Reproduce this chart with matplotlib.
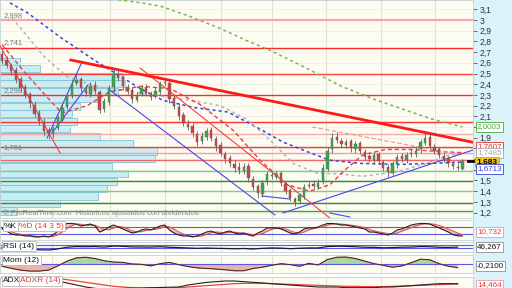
import numpy as np
import matplotlib
matplotlib.use("Agg")
import matplotlib.pyplot as plt
from matplotlib.patches import Rectangle

plt.rcParams['font.family'] = ['Liberation Sans', 'DejaVu Sans']

### Price bars (one candle per bar)
opens = [2.68, 2.63, 2.57, 2.53, 2.45, 2.37, 2.31, 2.21, 2.13, 2.05,
         1.97, 1.93, 1.99, 2.07, 2.19, 2.29, 2.41, 2.45, 2.35, 2.31,
         2.39, 2.33, 2.17, 2.23, 2.37, 2.49, 2.47, 2.37, 2.35, 2.25,
         2.31, 2.37, 2.31, 2.29, 2.33, 2.41, 2.41, 2.27, 2.19, 2.11,
         2.03, 2.01, 1.93, 1.87, 1.91, 1.97, 1.89, 1.83, 1.75, 1.71,
         1.65, 1.63, 1.59, 1.64, 1.51, 1.45, 1.37, 1.49, 1.55, 1.53,
         1.57, 1.47, 1.41, 1.33, 1.31, 1.35, 1.45, 1.47, 1.44, 1.49,
         1.61, 1.79, 1.91, 1.87, 1.83, 1.87, 1.79, 1.85, 1.77, 1.73,
         1.69, 1.75, 1.67, 1.63, 1.57, 1.65, 1.73, 1.69, 1.75, 1.75,
         1.79, 1.85, 1.91, 1.81, 1.79, 1.73, 1.71, 1.65, 1.63, 1.61]
closes = [2.62, 2.58, 2.52, 2.44, 2.36, 2.30, 2.22, 2.12, 2.06, 1.96,
          1.94, 1.98, 2.08, 2.18, 2.30, 2.40, 2.44, 2.36, 2.32, 2.38,
          2.34, 2.16, 2.24, 2.36, 2.50, 2.46, 2.38, 2.34, 2.26, 2.30,
          2.36, 2.32, 2.28, 2.34, 2.40, 2.42, 2.26, 2.20, 2.10, 2.04,
          2.00, 1.94, 1.86, 1.92, 1.96, 1.90, 1.82, 1.76, 1.70, 1.66,
          1.62, 1.60, 1.63, 1.52, 1.44, 1.38, 1.48, 1.56, 1.54, 1.56,
          1.48, 1.40, 1.34, 1.30, 1.36, 1.44, 1.46, 1.45, 1.48, 1.62,
          1.78, 1.90, 1.88, 1.84, 1.86, 1.80, 1.84, 1.78, 1.72, 1.70,
          1.74, 1.68, 1.62, 1.58, 1.66, 1.72, 1.70, 1.74, 1.76, 1.78,
          1.86, 1.90, 1.82, 1.78, 1.74, 1.70, 1.66, 1.64, 1.62, 1.683]
highs = [2.72, 2.66, 2.60, 2.56, 2.48, 2.40, 2.33, 2.24, 2.16, 2.08,
         2.00, 2.01, 2.11, 2.22, 2.33, 2.44, 2.49, 2.47, 2.39, 2.42,
         2.43, 2.35, 2.27, 2.39, 2.55, 2.53, 2.49, 2.40, 2.37, 2.33,
         2.39, 2.40, 2.34, 2.37, 2.43, 2.46, 2.43, 2.30, 2.22, 2.14,
         2.07, 2.04, 1.96, 1.95, 1.99, 2.00, 1.92, 1.86, 1.78, 1.74,
         1.69, 1.67, 1.66, 1.66, 1.54, 1.47, 1.50, 1.59, 1.58, 1.59,
         1.59, 1.49, 1.43, 1.35, 1.38, 1.47, 1.49, 1.50, 1.51, 1.65,
         1.81, 1.94, 1.95, 1.90, 1.89, 1.89, 1.87, 1.87, 1.79, 1.75,
         1.77, 1.77, 1.69, 1.65, 1.68, 1.75, 1.76, 1.77, 1.79, 1.81,
         1.89, 1.94, 1.93, 1.84, 1.81, 1.76, 1.73, 1.68, 1.66, 1.70]
lows = [2.59, 2.55, 2.49, 2.41, 2.33, 2.27, 2.18, 2.09, 2.02, 1.92,
        1.89, 1.90, 1.97, 2.05, 2.17, 2.27, 2.39, 2.33, 2.29, 2.28,
        2.31, 2.13, 2.14, 2.21, 2.34, 2.43, 2.35, 2.31, 2.22, 2.23,
        2.29, 2.29, 2.25, 2.27, 2.31, 2.38, 2.22, 2.17, 2.07, 2.01,
        1.97, 1.91, 1.82, 1.84, 1.88, 1.87, 1.78, 1.73, 1.66, 1.63,
        1.58, 1.56, 1.56, 1.49, 1.41, 1.34, 1.35, 1.46, 1.51, 1.51,
        1.45, 1.37, 1.31, 1.26, 1.29, 1.33, 1.43, 1.42, 1.42, 1.47,
        1.59, 1.76, 1.85, 1.81, 1.80, 1.77, 1.76, 1.75, 1.69, 1.67,
        1.66, 1.65, 1.59, 1.53, 1.55, 1.62, 1.67, 1.66, 1.72, 1.72,
        1.76, 1.83, 1.79, 1.75, 1.71, 1.67, 1.63, 1.61, 1.60, 1.60]

### Volume by price (left histogram)
vp_bottoms = [1.18, 1.25, 1.32, 1.39, 1.46, 1.53, 1.60, 1.67, 1.74, 1.81, 1.88,
              1.95, 2.02, 2.09, 2.16, 2.23, 2.30, 2.37, 2.44, 2.51, 2.58]
vp_volume = [17, 60, 98, 107, 117, 128, 112, 155, 157, 133, 100,
             70, 77, 72, 80, 97, 118, 125, 122, 40, 20]

### Support / resistance levels
level_prices = [2.998, 2.741, 2.495, 2.298, 2.047, 1.935, 1.81, 1.761, 1.69,
                1.589, 1.495, 1.40, 1.29, 1.215]
level_colors = ['#f7a6a6', '#ff2a2a', '#ff4040', '#ff2a2a', '#ff3030', '#f7a8a8', '#ff3535',
                '#f5a0a0', '#f06868', '#80cc80', '#249624', '#80cc80', '#249624', '#3aa63a']
level_labels = ['2,998', '2,741', '2,298', '1,761']
level_label_prices = [2.998, 2.741, 2.298, 1.761]

### Moving averages (bar index, value)
ma_green_idx = [25, 30, 34, 40, 47, 53, 58, 65, 73, 80, 86, 92, 99]
ma_green = [3.19, 3.16, 3.13, 3.04, 2.92, 2.80, 2.71, 2.56, 2.38, 2.26, 2.17, 2.08, 2.0003]
ma_blue_idx = [1.7, 5.4, 12.5, 20.4, 29.7, 34.6, 41.5, 48.6, 55.1, 60.4, 65.6, 70.5, 77.0, 85.6, 92.0, 98.9]
ma_blue = [3.16, 3.07, 2.84, 2.61, 2.36, 2.25, 2.18, 2.14, 1.99, 1.86, 1.77, 1.69, 1.66, 1.65, 1.66, 1.6713]
ma_gray_idx = [2.2, 8.8, 14.0, 21.1, 27.5, 34.0, 40.4, 46.9, 52.7, 57.6, 62.6, 67.7, 72.7, 77.6, 84.9, 92.0, 95.7, 98.9]
ma_gray = [3.02, 2.67, 2.47, 2.37, 2.33, 2.29, 2.25, 2.20, 2.07, 1.88, 1.66, 1.57, 1.56, 1.54, 1.58, 1.67, 1.73, 1.7485]
ma_red_idx = [0, 4.9, 10.3, 12.9, 18.3, 23.2, 29.7, 36.1, 42.6, 49.7, 55.5, 61.3, 66.2, 70.5, 73.8, 77.6, 82.4, 87.7, 94.2, 98.9]
ma_red = [2.77, 2.51, 2.25, 2.13, 2.20, 2.33, 2.38, 2.36, 2.21, 1.97, 1.69, 1.46, 1.40, 1.46, 1.60, 1.74, 1.79, 1.79, 1.77, 1.7607]

### Trend lines: (start index, start price, end index, end price)
trend_thick = [(14.8, 2.626, 101.3, 1.857)]
trend_red = [(-0.4, 2.757, 12.5, 1.757), (29.7, 2.551, 71.6, 1.112)]
trend_red_dash = [(66.7, 2.0, 98.9, 1.738)]
trend_blue = [(23.2, 2.346, 58.7, 1.178), (60.4, 1.196, 101.3, 1.785),
              (9.7, 1.897, 17.2, 2.607), (10.75, 1.944, 18.5, 2.393),
              (55.9, 1.355, 61.9, 1.327), (70.5, 1.196, 74.8, 1.159)]

### Month separators (bar index)
month_idx = [10.75, 23.2, 35.1, 47.1, 58.1, 69.7, 81.5, 93.1]

### Indicators
stoch_k = [68, 46, 25, 18, 18, 11, 11, 4, 4, 11,
           4, 18, 46, 82, 100, 100, 96, 82, 89, 96,
           82, 39, 54, 75, 89, 75, 61, 46, 32, 39,
           54, 61, 54, 68, 82, 89, 54, 32, 18, 11,
           11, 4, 11, 25, 39, 46, 32, 25, 39, 46,
           32, 25, 32, 18, 11, 32, 46, 68, 68, 68,
           61, 46, 32, 25, 39, 61, 68, 68, 75, 89,
           100, 100, 96, 89, 89, 82, 75, 68, 61, 39,
           39, 32, 25, 18, 32, 54, 61, 75, 89, 96,
           100, 100, 96, 82, 68, 54, 39, 20, 12, 10.7]
stoch_d = [60, 52, 40, 30, 22, 17, 14, 10, 7, 6,
           6, 8, 18, 40, 65, 85, 96, 94, 88, 88,
           88, 72, 58, 55, 68, 78, 75, 62, 48, 40,
           42, 50, 56, 58, 66, 78, 76, 60, 40, 24,
           14, 9, 8, 12, 22, 34, 40, 36, 32, 36,
           38, 34, 30, 26, 20, 20, 28, 44, 58, 66,
           66, 60, 48, 36, 30, 40, 54, 64, 70, 76,
           88, 96, 98, 96, 92, 88, 84, 78, 70, 58,
           48, 40, 34, 28, 25, 32, 45, 58, 70, 82,
           92, 98, 98, 94, 86, 74, 60, 46, 32, 20]
ind_idx = list(range(0, 100, 2))
rsi = [42, 34, 26, 20, 15, 13, 25, 45, 52, 50,
       52, 46, 58, 55, 48, 47, 46, 50, 44, 40,
       36, 32, 35, 32, 30, 27, 30, 24, 32, 36,
       34, 28, 33, 36, 36, 52, 56, 54, 50, 44,
       43, 38, 40, 45, 46, 52, 50, 44, 42, 46.3]
mom = [-0.12, -0.25, -0.36, -0.42, -0.42, -0.36, -0.10, 0.20, 0.40, 0.44,
       0.36, 0.22, 0.14, 0.12, 0.02, 0.00, -0.10, 0.04, 0.12, -0.02,
       -0.14, -0.22, -0.26, -0.29, -0.34, -0.40, -0.40, -0.26, -0.18, -0.06,
       0.04, -0.02, -0.12, 0.06, -0.04, 0.30, 0.44, 0.45, 0.36, 0.20,
       0.04, -0.06, -0.18, -0.10, 0.10, 0.32, 0.28, 0.04, -0.12, -0.21]
adx = [24, 24, 23, 22, 21, 20, 19, 16, 13, 10,
       8, 6, 5, 4, 4, 4, 5, 6, 7, 10,
       13, 15, 17, 18, 19, 19, 18, 17, 16, 15,
       14, 13, 12, 11, 10, 10, 10, 9, 9, 9,
       9, 10, 10, 11, 12, 13, 14, 15, 15, 15]
adxr = [25, 25, 25, 24.5, 24, 23.5, 23, 21, 19, 17,
        15, 13, 11, 10, 9, 8, 8, 8, 8.5, 9,
        10, 11, 12, 13, 14, 15, 15.5, 15.5, 15.5, 15,
        14.5, 14, 13.5, 13, 12.5, 12, 11.5, 11, 11, 10.5,
        10.5, 10.5, 11, 11.5, 12, 12.5, 13, 13.5, 14, 14.464]

### Layout helpers (pixel frame of a 512x288 picture)
W, H = 512, 288
PLOT_R = 473
BAR_PX, X0_PX = 4.65, 2.0
xlim = (-X0_PX / BAR_PX, (PLOT_R - X0_PX) / BAR_PX)
BG = '#fcfcf3'
BORDER = '#c4d0d6'

fig = plt.figure(figsize=(5.12, 2.88), dpi=100)
fig.patch.set_facecolor('white')
fig.patches.append(Rectangle((PLOT_R / W, 0), 1 - PLOT_R / W, 1, transform=fig.transFigure,
                             facecolor='#daf2fa', edgecolor='none', zorder=-5))


def panel(top, bottom):
    a = fig.add_axes([0, 1 - bottom / H, PLOT_R / W, (bottom - top) / H])
    a.set_facecolor(BG)
    a.set_xlim(*xlim)
    a.set_xticks([])
    for s in a.spines.values():
        s.set_color(BORDER)
        s.set_linewidth(0.6)
    for m in month_idx:
        a.axvline(m, color='#e2e2d0', lw=0.8, zorder=0.5)
    a.yaxis.tick_right()
    a.tick_params(axis='y', length=3, width=0.6, color='#555555', labelsize=6.2,
                  labelcolor='#333333', pad=1.5)
    return a


def fig_box(px, py, s, color, fc='white', ec=None, bold=False, size=5.8):
    fig.text(px / W, 1 - py / H, s, color=color, fontsize=size, ha='left', va='center',
             fontweight='bold' if bold else 'normal', zorder=30,
             bbox=dict(boxstyle='square,pad=0.18', fc=fc, ec=ec or color, lw=0.6))


### Main price panel
ax = panel(0, 218)
ax.set_ylim(1.1495, 3.187)
ticks = [round(1.2 + 0.1 * k, 1) for k in range(20)]
hidden = {2.0, 1.8, 1.7, 1.6}
ax.set_yticks(ticks)
ax.set_yticklabels(['' if t in hidden else ('%g' % t).replace('.', ',') for t in ticks])
ax.grid(axis='y', color='#ecece0', lw=0.5, zorder=0.4)

# volume profile
px_per_unit = 1.0 / BAR_PX
ax.barh(vp_bottoms, [v * px_per_unit for v in vp_volume], height=0.068, left=xlim[0], align='edge',
        color='#c9edf5', edgecolor='#7fc4d3', lw=0.6, zorder=1)

for p, col in zip(level_prices, level_colors):
    ax.axhline(p, color=col, lw=1.6 if p > 2.9 else 1.0, zorder=2)
for s, p in zip(level_labels, level_label_prices):
    ax.text(0.008, p + 0.012, s, transform=ax.get_yaxis_transform(), fontsize=5.5,
            color='#7a7a7a', va='bottom', zorder=6)

ax.plot(ma_green_idx, ma_green, color='#78b84a', lw=1.1, ls=(0, (2, 2)), zorder=3)
ax.plot(ma_blue_idx, ma_blue, color='#3344dd', lw=1.1, ls=(0, (2, 2)), zorder=3)
ax.plot(ma_gray_idx, ma_gray, color='#b5b5b5', lw=1.1, ls=(0, (2, 2)), zorder=3)
ax.plot(ma_red_idx, ma_red, color='#f03c3c', lw=1.0, ls=(0, (3, 2)), zorder=3)

for i0, p0, i1, p1 in trend_thick:
    ax.plot([i0, i1], [p0, p1], color='#ff1a1a', lw=2.0, zorder=3.5)
for i0, p0, i1, p1 in trend_red:
    ax.plot([i0, i1], [p0, p1], color='#ff3a3a', lw=0.8, zorder=3)
for i0, p0, i1, p1 in trend_red_dash:
    ax.plot([i0, i1], [p0, p1], color='#f09090', lw=0.8, ls=(0, (4, 2)), zorder=3)
for i0, p0, i1, p1 in trend_blue:
    ax.plot([i0, i1], [p0, p1], color='#4848e6', lw=0.8, zorder=3)

# candles
x = np.arange(len(closes))
o, c, h, l = map(np.array, (opens, closes, highs, lows))
up = c >= o
ax.vlines(x, l, h, color='#606060', lw=0.6, zorder=4)
ax.bar(x, np.maximum(np.abs(c - o), 0.008), bottom=np.minimum(o, c), width=0.5,
       color=np.where(up, '#3aa84a', '#d84040'), edgecolor='#606060', lw=0.3, zorder=5)

fig.text(3 / W, 1 - 213 / H, '\u00a9 ProRealTime.com  Hist\u00f3ricos ajustados con dividendos',
         fontsize=5.5, color='#8a8a8a', va='center', zorder=30)

# last-value boxes
fig_box(477, 127, '2,0003', '#4fa53a')
fig_box(477, 147, '1,7607', '#e03030')
fig_box(477, 153, '1,7485', '#a8a8a8')
fig_box(476, 162, '1,683', 'black', fc='#f5c518', ec='#d4a400', bold=True, size=6)
fig_box(477, 169, '1,6713', '#3344dd')
ax.plot([xlim[1] - 1.0, xlim[1]], [closes[-1], closes[-1]], color='black', lw=2, zorder=6,
        clip_on=False)

### %K / %D panel
ak = panel(220, 240)
ak.set_ylim(-18, 125)
ak.set_yticks([])
ak.axhline(75, color='#5a5ae6', lw=0.8)
ak.axhline(25, color='#5a5ae6', lw=0.8)
ak.fill_between(x, stoch_k, stoch_d, color='#f2b2b2', alpha=0.8, lw=0)
ak.plot(x, stoch_d, color='#ee5050', lw=0.8)
ak.plot(x, stoch_k, color='#222222', lw=0.8)
fig_box(4, 226, '%K', '#111111', ec='#b8b8b8', size=6)
fig_box(19, 226, '%D (14 3 5)', '#e03a3a', ec='#b8b8b8', size=6)
fig_box(477, 232, '10,732', '#e04040', ec='#e0a0a0')

### RSI panel
ar = panel(242, 252)
ar.set_ylim(-10, 104)
ar.set_yticks([])
ar.axhline(70, color='#5a5ae6', lw=0.8)
ar.axhline(30, color='#5a5ae6', lw=0.8)
ar.plot(ind_idx, rsi, color='#1a1a40', lw=0.9)
fig_box(3, 246, 'RSI (14)', '#111111', ec='#b8b8b8', size=6)
fig_box(477, 247, '46,267', '#111111', ec='#909090')

### Momentum panel
am = panel(255, 273)
am.set_ylim(-0.54, 0.58)
am.set_yticks([])
am.axhline(0, color='#5a5ae6', lw=0.8)
am.fill_between(ind_idx, mom, 0, where=[v >= 0 for v in mom], interpolate=True, color='#a6d8a0', lw=0)
am.fill_between(ind_idx, mom, 0, where=[v < 0 for v in mom], interpolate=True, color='#e9b4ac', lw=0)
am.plot(ind_idx, mom, color='#e87070', lw=0.9)
am.plot(ind_idx, mom, color='#222222', lw=0.6)
fig_box(3, 260, 'Mom (12)', '#111111', ec='#b8b8b8', size=6)
fig_box(477, 266, '-0,2100', '#111111', ec='#909090')

### ADX panel
aa = panel(277, 297)
aa.set_ylim(-5, 25)
aa.set_yticks([])
aa.plot(ind_idx, adxr, color='#ee4444', lw=0.9)
aa.plot(ind_idx, adx, color='#222222', lw=0.8)
fig_box(3, 281, 'ADX', '#111111', ec='#b8b8b8', size=6)
fig_box(20, 281, 'ADXR (14)', '#e03a3a', ec='#b8b8b8', size=6)
fig_box(477, 285, '14,464', '#e04040', ec='#e0a0a0')

fig.savefig('out.png', dpi=100, facecolor=fig.get_facecolor())
